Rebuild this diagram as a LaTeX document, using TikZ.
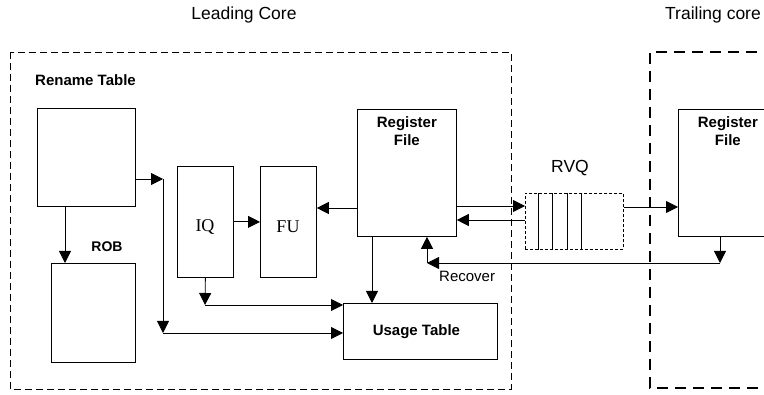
\documentclass[tikz,border=0pt]{standalone}
\usepackage{fontspec}
\setmainfont{Liberation Sans}
\newfontfamily\tnr{Liberation Serif}
\usetikzlibrary{arrows.meta,calc}
\begin{document}
\begin{tikzpicture}[x=1pt,y=-1pt,
  box/.style={draw, line width=0.8pt, minimum width=#1, inner sep=0pt, anchor=north west},
  arr/.style={line width=0.8pt, -{Triangle[length=12pt,width=12pt]}},
  ln/.style={line width=0.8pt},
  blbl/.style={font=\fontsize{15}{18}\selectfont\bfseries, inner sep=0pt, align=center},
  ttl/.style={font=\fontsize{17.5}{20}\selectfont, inner sep=0pt},
  ser/.style={font=\fontsize{18}{20}\tnr, inner sep=0pt}]
\clip (0,0) rectangle (764,395);
\useasboundingbox (0,0) rectangle (764,395);
% titles
\node[ttl] (lt) at (244,15) {Leading Core};
\node[ttl] (tt) at (713,15) {Trailing core};
% core frames
\draw[line width=0.8pt, dash pattern=on 7pt off 4pt] (10,52) rectangle (511,389);
\draw[line width=1.6pt, dash pattern=on 11pt off 7pt] (775,52) -- (650,52) -- (650,388) -- (775,388);
% boxes
\node[box=98pt, minimum height=98pt] (rt) at (37,108) {};
\node[box=84pt, minimum height=99pt] (rob) at (51,263) {};
\node[box=56pt, minimum height=111pt] (iq) at (177,166) {};
\node[box=56pt, minimum height=111pt] (fu) at (260,166) {};
\node[box=99pt, minimum height=127pt] (rf) at (357,109) {};
\node[box=154pt, minimum height=56pt] (ut) at (343,303) {};
\node[box=98pt, minimum height=56pt, dash pattern=on 3pt off 2pt] (rvq) at (525,193) {};
\node[box=99pt, minimum height=127pt] (trf) at (678,109) {};
% labels
\node[blbl, anchor=west] (rtl) at (35,80) {Rename Table};
\node[blbl, font=\fontsize{14}{16}\selectfont\bfseries] (robl) at (107,247) {ROB};
\node[ser] (iql) at (205,227) {IQ};
\node[ser] (ful) at (288,227) {FU};
\node[blbl, anchor=north] (rfl) at ($(rf.north)+(0,7)$) {Register\\File};
\node[blbl, anchor=north] (trfl) at ($(trf.north)+(0,7)$) {Register\\File};
\node[blbl] (utl) at ($(ut.center)+(-4,0)$) {Usage Table};
\node[ttl] (rvql) at (570,168) {RVQ};
\node[font=\fontsize{15}{18}\selectfont, inner sep=0pt, anchor=west] (recl) at (439,276) {Recover};
% RVQ slots
\foreach \xx [count=\i] in {538,552,567,581} {
  \coordinate (s\i) at (\xx,0);
  \draw[ln] (rvq.north -| s\i) -- (rvq.south -| s\i);
}
% helper coordinates
\coordinate (a1) at (65,0);
\coordinate (c1) at (163,179);
\coordinate (c2) at (163,333);
\coordinate (c3) at (205,305);
\coordinate (c4) at (372,0);
\coordinate (c5) at (720,263);
\coordinate (c6) at (427,263);
\coordinate (y208) at (0,208);
\coordinate (y206) at (0,206);
\coordinate (y220) at (0,220);
\coordinate (y207) at (0,207);
% connectors
\draw[arr] (rt.south -| a1) -- (rob.north -| a1);
\draw[arr] (rt.east |- c1) -- (c1);
\draw[arr] (c1) -- (c2);
\draw[arr] (c2) -- (ut.west |- c2);
\draw[arr] (iq.east) -- (fu.west);
\draw[arr] (rf.west |- y208) -- (fu.east |- y208);
\draw[arr] (iq.south) -- (c3);
\draw[arr] (c3) -- (ut.west |- c3);
\draw[arr] (rf.south -| c4) -- (ut.north -| c4);
\draw[arr] (rf.east |- y206) -- (rvq.west |- y206);
\draw[arr] (rvq.west |- y220) -- (rf.east |- y220);
\draw[arr] (rvq.east |- y207) -- (trf.west |- y207);
\draw[arr] (trf.south -| c5) -- (c5);
\draw[arr] (c5) -- (c6);
\draw[arr] (c6) -- (rf.south -| c6);
\end{tikzpicture}
\end{document}
